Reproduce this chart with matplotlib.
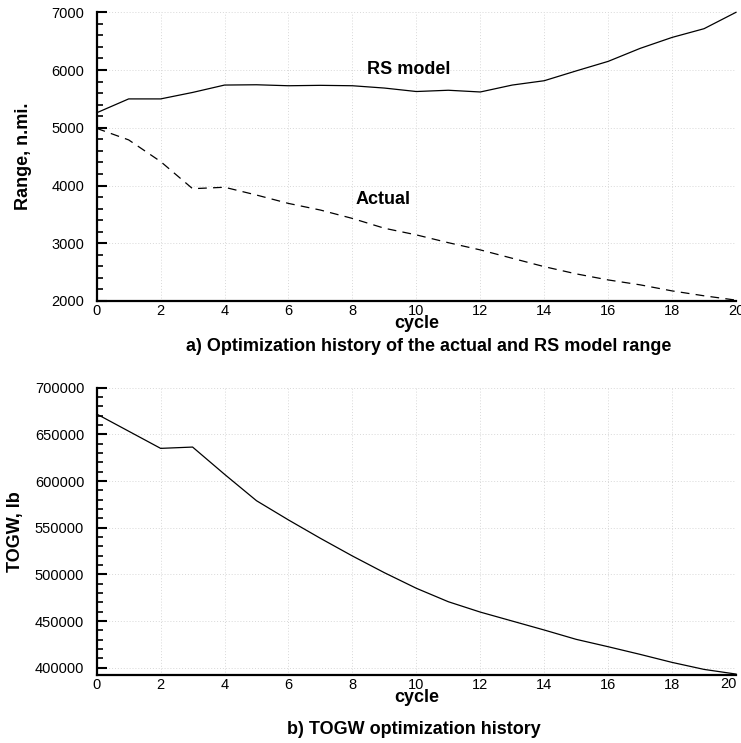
# Range and TOGW optimization history, two stacked panels

import matplotlib
matplotlib.use("Agg")
from matplotlib import pyplot as plt
from matplotlib.ticker import AutoMinorLocator, MultipleLocator, FuncFormatter

plt.rcParams["font.family"] = ["Liberation Sans", "DejaVu Sans"]

# Data
cycle = list(range(21))
rs_model = [5260, 5500, 5500, 5612, 5740, 5745, 5728, 5735, 5728, 5688, 5628,
            5650, 5620, 5740, 5815, 5985, 6150, 6375, 6565, 6716, 7000]
actual = [4990, 4790, 4415, 3945, 3970, 3835, 3690, 3575, 3430, 3260, 3145,
          3010, 2885, 2740, 2595, 2470, 2365, 2280, 2175, 2090, 2015]
togw = [671800, 653400, 635000, 636400, 607200, 578900, 558300, 538600,
        519700, 501800, 485100, 470700, 459600, 450000, 440400, 430400,
        422500, 414300, 405700, 398200, 393200]

fig = plt.figure(figsize=(7.41, 7.43), dpi=100)
W, H = 741, 743


def add_axes(left, right, top, bottom):
    return fig.add_axes([left / W, 1 - bottom / H, (right - left) / W, (bottom - top) / H])


def px_text(x, y, s, **kw):
    # place text by reference pixel position
    return fig.text(x / W, 1 - y / H, s, ha="center", va="center", **kw)


def style(ax, step):
    for s in ("top", "right"):
        ax.spines[s].set_visible(False)
    for s in ("left", "bottom"):
        ax.spines[s].set_linewidth(1.6)
    ax.set_xlim(0, 20)
    ax.xaxis.set_major_locator(MultipleLocator(2))
    ax.yaxis.set_major_locator(MultipleLocator(step))
    ax.yaxis.set_minor_locator(AutoMinorLocator(5))
    ax.tick_params(axis="x", length=0, pad=2, labelsize=10.5)
    ax.tick_params(axis="y", which="major", direction="in", length=7, width=1.5,
                   pad=9, labelsize=10.5)
    ax.tick_params(axis="y", which="minor", direction="in", length=4.5, width=1.2)
    ax.grid(True, which="major", linestyle=(0, (1, 2)), color="#d8d8d8", linewidth=0.7)
    ax.set_axisbelow(True)
    ax.set_xlabel("cycle", fontsize=13, fontweight="bold", labelpad=-2)


# a) range
ax1 = add_axes(96.7, 736, 12.3, 301)
ax1.plot(cycle, rs_model, color="black", lw=0.9, clip_on=False)
ax1.plot(cycle, actual, color="black", lw=0.9, dashes=(7, 5), clip_on=False)
ax1.set_ylim(2000, 7000)
style(ax1, 1000)
ax1.set_ylabel("Range, n.mi.", fontsize=13, fontweight="bold", labelpad=14)
px_text(409, 70, "RS model", fontsize=13, fontweight="bold")
px_text(383, 200, "Actual", fontsize=13, fontweight="bold")

# b) TOGW
ax2 = add_axes(96.7, 736, 387.7, 675)
ax2.plot(cycle, togw, color="black", lw=0.9, clip_on=False)
ax2.set_ylim(392200, 700000)
style(ax2, 50000)
ax2.set_ylabel("TOGW, lb", fontsize=13, fontweight="bold", labelpad=8)
# last x label sits inside the frame in the reference
ax2.xaxis.set_major_formatter(FuncFormatter(lambda v, p: "" if v >= 20 else f"{v:g}"))
px_text(728, 684.5, "20", fontsize=10.5)

px_text(429, 347, "a) Optimization history of the actual and RS model range",
        fontsize=13, fontweight="bold")
px_text(414, 730, "b) TOGW optimization history", fontsize=13, fontweight="bold")

fig.savefig("out.png", dpi=100)
